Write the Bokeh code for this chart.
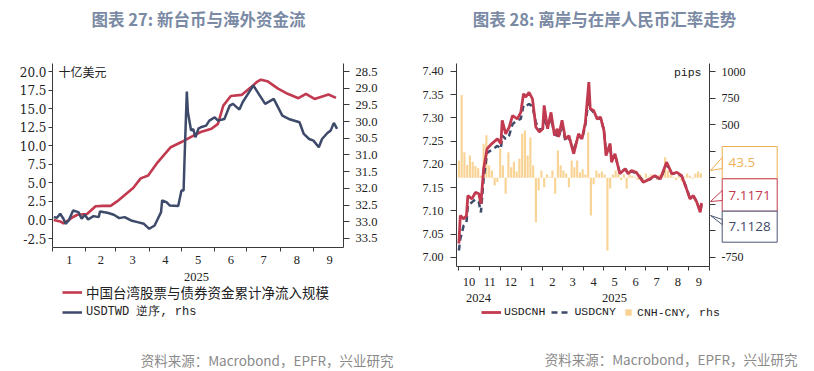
import pandas as pd
from bokeh.plotting import figure
from bokeh.models import (Range1d, LinearAxis, FixedTicker, SingleIntervalTicker,
                          NumeralTickFormatter, CustomJSTickFormatter, Label, Legend,
                          LegendItem, BoxAnnotation, PolyAnnotation, GridBox)
from bokeh.embed import file_html
from bokeh.resources import INLINE

NAN = float("nan")

# ---------------- data: chart 27 ----------------
flow_dates = ["2025-01-02", "2025-01-08", "2025-01-11", "2025-01-15", "2025-01-20", "2025-01-24",
              "2025-02-02", "2025-02-10", "2025-02-17", "2025-02-24", "2025-03-02", "2025-03-12",
              "2025-03-17", "2025-03-24", "2025-03-31", "2025-04-09", "2025-04-21", "2025-05-01",
              "2025-05-10", "2025-05-19", "2025-05-29", "2025-06-04", "2025-06-09", "2025-06-16",
              "2025-06-26", "2025-07-05", "2025-07-10", "2025-07-14", "2025-07-20", "2025-07-30",
              "2025-08-08", "2025-08-18", "2025-08-25", "2025-09-02", "2025-09-15", "2025-09-22"]
flow_values = [0.0, -0.2, -0.45, -0.1, 0.4, 0.7,
               0.8, 1.85, 1.9, 1.9, 2.5, 3.7,
               4.3, 5.6, 6.0, 7.8, 9.8, 10.5,
               11.2, 11.85, 12.3, 12.95, 15.4, 16.7,
               16.85, 17.9, 18.56, 18.9, 18.7, 17.7,
               17.0, 16.4, 17.0, 16.3, 16.9, 16.45]

twd_dates = ["2025-01-02", "2025-01-05", "2025-01-08", "2025-01-11", "2025-01-13", "2025-01-16",
             "2025-01-20", "2025-01-25", "2025-01-28", "2025-01-31", "2025-02-03", "2025-02-08",
             "2025-02-13", "2025-02-14", "2025-02-21", "2025-02-27", "2025-03-04", "2025-03-09",
             "2025-03-15", "2025-03-21", "2025-03-27", "2025-04-01", "2025-04-06", "2025-04-09",
             "2025-04-12", "2025-04-13", "2025-04-17", "2025-04-20", "2025-04-28", "2025-05-01",
             "2025-05-03", "2025-05-04", "2025-05-06", "2025-05-07", "2025-05-10", "2025-05-12",
             "2025-05-14", "2025-05-17", "2025-05-19", "2025-05-24", "2025-05-27", "2025-06-01",
             "2025-06-04", "2025-06-10", "2025-06-15", "2025-06-18", "2025-06-24", "2025-06-27",
             "2025-07-02", "2025-07-07", "2025-07-12", "2025-07-18", "2025-07-26", "2025-08-03",
             "2025-08-09", "2025-08-19", "2025-08-23", "2025-08-28", "2025-09-01", "2025-09-06",
             "2025-09-09", "2025-09-14", "2025-09-17", "2025-09-20", "2025-09-23"]
twd_values = [32.86, 32.88, 32.76, 32.91, 33.06, 32.96,
              32.66, 32.71, 32.91, 32.79, 32.93, 32.83,
              32.86, 32.69, 32.73, 32.79, 32.89, 32.86,
              32.96, 33.01, 33.06, 33.21, 33.11, 32.91,
              32.71, 32.36, 32.41, 32.51, 32.53, 32.06,
              32.06, 31.01, 29.10, 29.72, 30.27, 30.22,
              30.47, 30.20, 30.17, 30.12, 29.97, 29.87,
              29.97, 29.92, 29.52, 29.47, 29.64, 29.42,
              29.17, 28.92, 29.17, 29.47, 29.32, 29.82,
              29.92, 30.02, 30.37, 30.52, 30.57, 30.77,
              30.52, 30.34, 30.27, 30.04, 30.22]

# ---------------- data: chart 28 ----------------
fx_dates = ["2024-10-02", "2024-10-04", "2024-10-09", "2024-10-13", "2024-10-15", "2024-10-21",
            "2024-10-26", "2024-10-31", "2024-11-03", "2024-11-07", "2024-11-12", "2024-11-19",
            "2024-11-27", "2024-12-02", "2024-12-04", "2024-12-09", "2024-12-14", "2024-12-19",
            "2024-12-26", "2024-12-31", "2025-01-04", "2025-01-07", "2025-01-12", "2025-01-17",
            "2025-01-22", "2025-01-27", "2025-02-01", "2025-02-03", "2025-02-08", "2025-02-13",
            "2025-02-18", "2025-02-22", "2025-02-24", "2025-03-01", "2025-03-06", "2025-03-11",
            "2025-03-18", "2025-03-25", "2025-03-30", "2025-04-04", "2025-04-09", "2025-04-11",
            "2025-04-16", "2025-04-21", "2025-04-26", "2025-05-01", "2025-05-04", "2025-05-10",
            "2025-05-12", "2025-05-17", "2025-05-24", "2025-06-01", "2025-06-05", "2025-06-10",
            "2025-06-17", "2025-06-27", "2025-07-07", "2025-07-14", "2025-07-22", "2025-07-31",
            "2025-08-08", "2025-08-15", "2025-08-22", "2025-08-29", "2025-09-03", "2025-09-08",
            "2025-09-13", "2025-09-18", "2025-09-20"]
cnh_values = [7.030, 7.090, 7.083, 7.090, 7.133, 7.126,
              7.140, 7.137, 7.115, 7.191, 7.234, 7.245,
              7.255, 7.245, 7.295, 7.266, 7.280, 7.305,
              7.298, 7.312, 7.352, 7.345, 7.355, 7.341,
              7.280, 7.270, 7.277, 7.327, 7.277, 7.312,
              7.262, 7.277, 7.259, 7.295, 7.255, 7.262,
              7.223, 7.266, 7.255, 7.291, 7.377, 7.320,
              7.316, 7.298, 7.302, 7.273, 7.219, 7.245,
              7.205, 7.223, 7.180, 7.191, 7.180, 7.187,
              7.183, 7.162, 7.169, 7.176, 7.169, 7.205,
              7.180, 7.183, 7.176, 7.148, 7.126, 7.133,
              7.119, 7.097, 7.1171]
cny_values = [7.015, 7.040, 7.069, 7.075, 7.112, 7.119,
              7.125, 7.119, 7.097, 7.170, 7.225, 7.232,
              7.240, 7.234, 7.262, 7.255, 7.262, 7.287,
              7.295, 7.298, 7.327, 7.325, 7.330, 7.325,
              7.290, 7.275, 7.277, 7.300, 7.280, 7.300,
              7.265, 7.262, 7.258, 7.285, 7.250, 7.258,
              7.230, 7.262, 7.255, 7.285, 7.345, 7.320,
              7.312, 7.300, 7.298, 7.275, 7.225, 7.240,
              7.212, 7.222, 7.182, 7.190, 7.182, 7.185,
              7.182, 7.165, 7.168, 7.175, 7.168, 7.200,
              7.180, 7.182, 7.175, 7.150, 7.128, 7.132,
              7.120, 7.100, 7.1128]
spread_start = "2024-10-02"   # one bar every 4 days
spread_values = [160, 780, 240, 120, 210, 150, 110, 90,
                 20, 320, 400, 115, 68, -73, -40,
                 275, 115, -150, 240, 100, 150, 60, 180,
                 414, 445, 210, 380, 115, -418, -120, 68,
                 -88, 30, 10, 68, -150, 257, 115,
                 68, 40, -88, 162, 100, 162, 50, 80,
                 30, 429, -355, -60, 68, 40, 60,
                 30, -685, -100, 30, 68, 40, -20, 30,
                 -100, 68, 20, 10, -20, 30, -30,
                 40, 10, 30, 20, -20, 30, 40, 194,
                 68, 30, 10, -20, 20, -30, 10, 40,
                 20, -10, 40, 60, 43.5]

left_title = "图表 27: 新台币与海外资金流"
right_title = "图表 28: 离岸与在岸人民币汇率走势"
source_text = "资料来源：Macrobond，EPFR，兴业研究"

# ---------------- styles ----------------
RED = "#c23a4f"
NAVY = "#3e4a6a"
ORANGE = "#f6c470"
TITLE_C = "#7a8aa4"
GREY = "#8a8a8a"
AXIS_C = "#3a3a3a"
TXT = "#222222"
CJK = "Noto Sans CJK SC"
W, H = 814, 371


def month_ticker(start, end):
    b = pd.date_range(start, end, freq="MS")
    mids = [b[i] + (b[i + 1] - b[i]) / 2 for i in range(len(b) - 1)]
    return FixedTicker(ticks=[t.value / 1e6 for t in mids],
                       minor_ticks=[t.value / 1e6 for t in b])


month_fmt = CustomJSTickFormatter(code="return String(new Date(tick).getUTCMonth() + 1);")


def base_style(p):
    p.xgrid.visible = False
    p.ygrid.visible = False
    p.outline_line_color = None
    p.background_fill_color = "white"
    p.border_fill_color = "white"


def style_axis(ax, font, size, tick_out, standoff):
    ax.axis_line_color = AXIS_C
    ax.axis_line_width = 1
    ax.major_tick_line_color = AXIS_C
    ax.major_tick_out = tick_out
    ax.major_tick_in = 0
    ax.minor_tick_out = 0
    ax.minor_tick_in = 0
    ax.major_label_text_font = font
    ax.major_label_text_font_size = size
    ax.major_label_text_color = TXT
    ax.major_label_standoff = standoff


# ================= left chart (frame x 52..343, y 63..247) =================
p1 = figure(width=407, height=H, min_border_left=52, min_border_right=64,
            min_border_top=63, min_border_bottom=124, frame_align=False,
            x_axis_type="datetime",
            x_range=Range1d(pd.Timestamp("2024-12-31 20:00"), pd.Timestamp("2025-09-29")),
            y_range=Range1d(-3.71, 21.08),
            output_backend="svg", toolbar_location=None)
base_style(p1)
p1.extra_y_ranges = {"twd": Range1d(33.77, 28.26)}

yl = p1.yaxis[0]
yl.ticker = SingleIntervalTicker(interval=2.5)
yl.formatter = NumeralTickFormatter(format="0.0")
style_axis(yl, "DejaVu Serif", "12px", 4, 2)

yr = LinearAxis(y_range_name="twd", ticker=SingleIntervalTicker(interval=0.5),
                formatter=NumeralTickFormatter(format="0.0"))
style_axis(yr, "Liberation Serif", "12.5px", 6, 6)
p1.add_layout(yr, "right")

xa = p1.xaxis[0]
xa.ticker = month_ticker("2025-01-01", "2025-10-01")
xa.formatter = month_fmt
style_axis(xa, "Liberation Serif", "12.5px", 0, 4)
xa.minor_tick_out = 4
xa.minor_tick_line_color = AXIS_C

r_flow = p1.line(pd.to_datetime(flow_dates), flow_values, line_color=RED, line_width=2.6)
r_twd = p1.line(pd.to_datetime(twd_dates), twd_values, line_color=NAVY, line_width=2.5,
                y_range_name="twd")

# ================= right chart (frame x 456..709, y 63..266) =================
p2 = figure(width=407, height=H, min_border_left=49, min_border_right=105,
            min_border_top=63, min_border_bottom=105, frame_align=False,
            x_axis_type="datetime",
            x_range=Range1d(pd.Timestamp("2024-09-28 12:00"), pd.Timestamp("2025-10-01 12:00")),
            y_range=Range1d(6.9806, 7.4172),
            output_backend="svg", toolbar_location=None)
base_style(p2)
p2.extra_y_ranges = {"pips": Range1d(-834.7, 1075.3)}

y2l = p2.yaxis[0]
y2l.ticker = SingleIntervalTicker(interval=0.05)
y2l.formatter = NumeralTickFormatter(format="0.00")
style_axis(y2l, "Liberation Serif", "12px", 6, 7)

y2r = LinearAxis(y_range_name="pips", ticker=SingleIntervalTicker(interval=250),
                 formatter=NumeralTickFormatter(format="0"))
style_axis(y2r, "Liberation Serif", "12px", 6, 6)
y2r.major_label_overrides = {250: "", 0: "", -250: "", -500: ""}
p2.add_layout(y2r, "right")

x2 = p2.xaxis[0]
x2.ticker = month_ticker("2024-10-01", "2025-10-01")
x2.formatter = month_fmt
style_axis(x2, "Liberation Serif", "12.5px", 0, 7)
x2.minor_tick_out = 4
x2.minor_tick_line_color = AXIS_C

spread_dates = pd.date_range(spread_start, periods=len(spread_values), freq="4D")
r_bar = p2.vbar(x=spread_dates, top=spread_values, bottom=0, width=3.1 * 86400000,
                fill_color=ORANGE, fill_alpha=0.75, line_color=None, y_range_name="pips")
r_cny = p2.line(pd.to_datetime(fx_dates), cny_values, line_color=NAVY, line_width=2.5,
                line_dash="6 4")
r_cnh = p2.line(pd.to_datetime(fx_dates), cnh_values, line_color=RED, line_width=2.8)

# ================= overlay for titles, legends, notes, callouts =================
ov = figure(width=W, height=H, min_border=0, frame_align=False,
            x_range=Range1d(0, W), y_range=Range1d(H, 0),
            x_axis_location=None, y_axis_location=None,
            output_backend="svg", toolbar_location=None)
ov.grid.visible = False
ov.outline_line_color = None
ov.background_fill_alpha = 0
ov.border_fill_alpha = 0


def add_label(text, x, y, font, size, color, align="left", bold=False):
    ov.add_layout(Label(x=x, y=y, text=text, text_font=font, text_font_size=size,
                        text_color=color, text_align=align, text_baseline="middle",
                        text_font_style="bold" if bold else "normal"))


add_label(left_title, 198, 18, CJK, "16.5px", TITLE_C, align="center", bold=True)
add_label(right_title, 604, 18, CJK, "16.5px", TITLE_C, align="center", bold=True)
add_label("十亿美元", 58, 71, CJK, "12px", TXT)
add_label("pips", 701, 72, "Liberation Mono", "11.5px", TXT, align="right")
add_label("2025", 196, 276, "Liberation Serif", "12.5px", TXT, align="center")
add_label("2024", 478, 297, "Liberation Serif", "12.5px", TXT, align="center")
add_label("2025", 614, 297, "Liberation Serif", "12.5px", TXT, align="center")
add_label(source_text, 393, 359, CJK, "13.5px", GREY, align="right")
add_label(source_text, 797, 358, CJK, "13.5px", GREY, align="right")

# legend keys (invisible placeholders styled like the series)
k_flow = ov.line(x=[NAN], y=[NAN], line_color=RED, line_width=2.6)
k_twd = ov.line(x=[NAN], y=[NAN], line_color=NAVY, line_width=2.5)
k_cnh = ov.line(x=[NAN], y=[NAN], line_color=RED, line_width=2.8)
k_cny = ov.line(x=[NAN], y=[NAN], line_color=NAVY, line_width=2.5, line_dash="6 4")
k_bar = ov.vbar(x=[NAN], top=[NAN], width=1, fill_color=ORANGE, fill_alpha=0.75,
                line_color=None)

common = dict(padding=0, margin=0, background_fill_alpha=0, border_line_alpha=0,
              label_text_color=TXT)
ov.add_layout(Legend(items=[LegendItem(label="中国台湾股票与债券资金累计净流入规模", renderers=[k_flow])],
                     location=(62, H - 301.7), glyph_width=20, glyph_height=20, label_height=20,
                     label_standoff=4, label_text_font=CJK, label_text_font_size="13.5px", **common))
ov.add_layout(Legend(items=[LegendItem(label="USDTWD 逆序, rhs", renderers=[k_twd])],
                     location=(62, H - 321.7), glyph_width=20, glyph_height=20, label_height=20,
                     label_standoff=4, label_text_font="Liberation Mono",
                     label_text_font_size="12px", **common))
ov.add_layout(Legend(items=[LegendItem(label="USDCNH", renderers=[k_cnh]),
                            LegendItem(label="USDCNY", renderers=[k_cny])],
                     location=(481, H - 321.7), orientation="horizontal", spacing=6,
                     glyph_width=20, glyph_height=20, label_height=20, label_standoff=3,
                     label_text_font="Liberation Mono", label_text_font_size="11.5px", **common))
ov.add_layout(Legend(items=[LegendItem(label="CNH-CNY, rhs", renderers=[k_bar])],
                     location=(624, H - 318.5), orientation="horizontal",
                     glyph_width=8, glyph_height=8, label_height=8, label_standoff=5,
                     label_text_font="Liberation Mono", label_text_font_size="11.5px", **common))

# callouts with the latest values
callouts = [("43.5", "#efb255", "#eeae50", 146, 178.3, (157, 170, 168)),
            ("7.1171", RED, RED, 178.3, 210.7, (190, 201, 200)),
            ("7.1128", NAVY, "#4a5575", 210.7, 241.7, (219, 215, 224))]
for text, tcol, lcol, top, bot, (ya, yt, yb) in callouts:
    ov.add_layout(BoxAnnotation(left=721.7, right=776.7, top=top, bottom=bot,
                                fill_color="white", fill_alpha=1,
                                line_color=lcol, line_alpha=1, line_width=1))
    ov.add_layout(PolyAnnotation(xs=[721.7, 710, 721.7], ys=[ya, yt, yb],
                                 fill_color="white", fill_alpha=1,
                                 line_color=lcol, line_alpha=1, line_width=1))
    add_label(text, 728, (top + bot) / 2, "Open Sans", "13.5px", tcol)

layout = GridBox(children=[(p1, 0, 0), (p2, 0, 1), (ov, 0, 0, 1, 2)], spacing=0)
open("out.html", "w").write(file_html(layout, INLINE))
